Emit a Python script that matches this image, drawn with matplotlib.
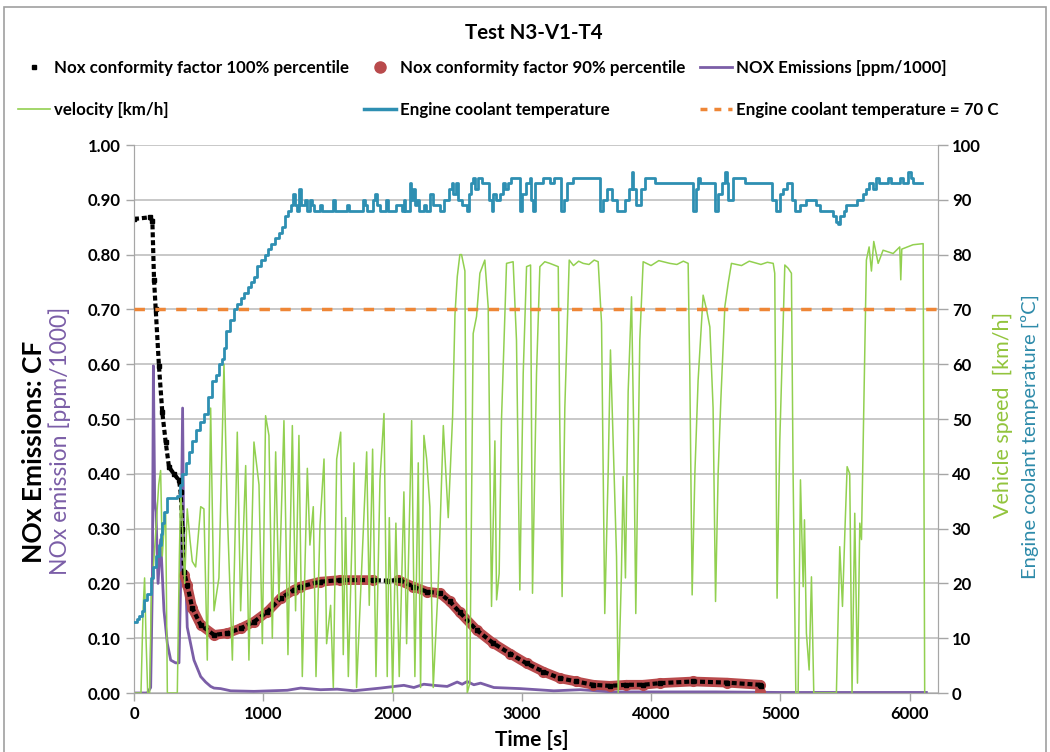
import numpy as np
import matplotlib.pyplot as plt
from matplotlib.lines import Line2D
from matplotlib.patches import Rectangle

plt.rcParams['font.family'] = ['Lato', 'DejaVu Sans']
plt.rcParams['font.weight'] = 'bold'

# vehicle speed [km/h] over time [s]
velocity = [
    (0, 0), (54, 0), (70, 15), (82, 21), (93, 10), (106, 0), (121, 0), (134, 18),
    (150, 23), (170, 30), (191, 38), (206, 40.6), (219, 25), (232, 30), (245, 33),
    (258, 0), (335, 0), (351, 25), (361, 37), (376, 30), (392, 20), (412, 33.6),
    (433, 28), (451, 24), (477, 23), (516, 34), (541, 33.6), (567, 6), (593, 52),
    (619, 15), (657, 21), (696, 60), (722, 33), (761, 6), (799, 47.6), (825, 15),
    (864, 41.5), (889, 6), (928, 45.8), (967, 38), (993, 9), (1018, 50.6), (1044, 47),
    (1070, 10), (1096, 44), (1121, 17), (1160, 49.7), (1191, 7), (1225, 48.8),
    (1250, 15), (1276, 47), (1302, 3), (1341, 41), (1361, 27), (1387, 34), (1408, 3),
    (1439, 30.6), (1470, 42.7), (1490, 9), (1521, 16), (1542, 1), (1568, 42.7),
    (1599, 47.6), (1619, 7), (1637, 32), (1658, 3), (1702, 42), (1722, 1), (1800, 44),
    (1820, 16), (1846, 44.5), (1872, 3), (1903, 39), (1934, 51), (1959, 3), (1975, 32),
    (2001, 0), (2026, 31), (2052, 3), (2088, 36.7), (2109, 9), (2148, 49.7), (2173, 3),
    (2199, 42), (2217, 1), (2243, 47), (2264, 42.7), (2289, 34), (2315, 1), (2354, 20),
    (2393, 48.8), (2431, 32), (2465, 50.6), (2483, 69), (2501, 76), (2521, 80),
    (2534, 80), (2560, 77), (2578, 0), (2598, 1.8), (2624, 65.6), (2650, 68.7),
    (2676, 76.6), (2714, 79), (2740, 70.5), (2766, 15.8), (2792, 46), (2805, 17),
    (2825, 21.8), (2843, 49.8), (2882, 78.4), (2933, 78.7), (2959, 64.4), (2985, 18.8),
    (3011, 58.3), (3037, 77.8), (3068, 78.1), (3083, 18.2), (3114, 58.3), (3140, 77.8),
    (3178, 78.7), (3217, 78.4), (3282, 77.8), (3294, 49), (3312, 17.6), (3333, 52),
    (3367, 79), (3400, 78.0), (3440, 78.8), (3475, 78.4), (3520, 78.2), (3560, 79),
    (3591, 78.7), (3617, 67.5), (3642, 14.5), (3668, 40), (3686, 62.6), (3707, 46),
    (3733, 24.9), (3746, 0), (3771, 21.8), (3784, 39.5), (3802, 21), (3823, 55),
    (3849, 72.3), (3867, 46), (3882, 14.5), (3913, 64.4), (3939, 78.7), (4000, 78),
    (4060, 78.9), (4145, 78.4), (4200, 78.2), (4250, 78.8), (4287, 78.4), (4300, 58.3),
    (4318, 17.9), (4339, 40), (4364, 57), (4403, 72.6), (4429, 70), (4455, 66.8),
    (4480, 52), (4499, 16.7), (4519, 40), (4540, 53.5), (4571, 70.5), (4597, 74.8),
    (4622, 78.4), (4700, 78), (4760, 78.8), (4850, 78.2), (4900, 78.6), (4945, 78.4),
    (4957, 76.6), (4975, 17.3), (4996, 46), (5035, 78.1), (5061, 77.5), (5086, 76.6),
    (5099, 40), (5120, 0), (5138, 0), (5156, 38.9), (5177, 19.4), (5187, 31.6),
    (5202, 10.9), (5223, 4.2), (5241, 21.2), (5259, 0), (5434, 0), (5460, 26.7),
    (5481, 15.8), (5499, 29), (5517, 41.3), (5537, 40), (5555, 0), (5576, 32.8),
    (5597, 1.8), (5615, 31), (5628, 28), (5646, 52), (5666, 79), (5687, 81.4),
    (5705, 77), (5723, 82.4), (5757, 78.4), (5795, 80.8), (5873, 80.2), (5924, 81.4),
    (5932, 75.4), (5940, 81), (6027, 81.8), (6105, 82), (6117, 0),
]

# engine coolant temperature [degC]
coolant = [
    (0, 13), (20, 13.5), (40, 14), (60, 15), (80, 17), (100, 18), (129, 21), (150, 23),
    (170, 25), (190, 27), (206, 29), (220, 31), (235, 33), (258, 35.5), (335, 36),
    (355, 38), (374, 40), (400, 42), (425, 44), (451, 46), (480, 48), (510, 49.5),
    (541, 51), (570, 54), (606, 57), (632, 58), (660, 60), (683, 61), (695, 63),
    (709, 66), (740, 68), (773, 70), (800, 71), (830, 72), (851, 73), (880, 74),
    (902, 75), (930, 76), (951, 78), (980, 79), (1010, 80), (1035, 81), (1060, 82),
    (1090, 83), (1120, 84), (1145, 85), (1170, 87), (1195, 88), (1214, 89), (1230, 91),
    (1245, 89), (1262, 88), (1280, 92), (1295, 89), (1320, 90), (1340, 88), (1360, 90),
    (1375, 89), (1390, 88), (1440, 89), (1455, 88), (1510, 88), (1540, 90), (1555, 88),
    (1620, 88), (1650, 89), (1665, 88), (1730, 88), (1770, 90), (1785, 89), (1800, 88),
    (1850, 90), (1865, 91), (1880, 89), (1900, 88), (1950, 90), (1965, 88), (1990, 88),
    (2030, 89), (2057, 89), (2070, 88), (2085, 90), (2100, 88), (2134, 93), (2145, 90),
    (2160, 92), (2175, 89), (2190, 90), (2205, 88), (2240, 89), (2260, 88), (2290, 91),
    (2315, 89), (2366, 88), (2400, 90), (2440, 92), (2457, 93), (2470, 91), (2490, 93),
    (2505, 90), (2540, 89), (2573, 88), (2590, 91), (2610, 93), (2624, 94), (2640, 92),
    (2660, 94), (2690, 93), (2720, 93), (2750, 90), (2766, 88), (2780, 91), (2800, 90),
    (2830, 91), (2856, 93), (2870, 92), (2895, 93), (2920, 94), (2972, 94), (2985, 88),
    (3000, 91), (3030, 93), (3062, 94), (3075, 90), (3088, 88), (3105, 93), (3165, 94),
    (3220, 93), (3250, 94), (3294, 94), (3307, 88), (3330, 90), (3346, 93), (3372, 93),
    (3398, 94), (3578, 94), (3604, 88), (3630, 90), (3660, 92), (3681, 92), (3700, 90),
    (3733, 88), (3784, 88), (3800, 90), (3830, 92), (3849, 95), (3862, 92), (3887, 89),
    (3920, 92), (3952, 94), (4016, 94), (4030, 93), (4300, 93), (4326, 88), (4345, 92),
    (4364, 94), (4380, 93), (4480, 93), (4493, 88), (4520, 91), (4550, 93), (4571, 95),
    (4584, 93), (4596, 90), (4635, 94), (4712, 94), (4725, 93), (4919, 93), (4935, 90),
    (4970, 88), (4995, 91), (5022, 92), (5050, 93), (5073, 93), (5090, 90), (5112, 88),
    (5151, 89), (5200, 90), (5254, 90), (5280, 89), (5305, 88), (5360, 88), (5408, 87),
    (5430, 86), (5447, 85.5), (5460, 87), (5490, 88), (5511, 89), (5560, 89), (5590, 90),
    (5615, 90), (5640, 91), (5666, 92), (5690, 93), (5718, 92), (5740, 94), (5760, 93),
    (5795, 93), (5830, 94), (5860, 93), (5924, 94), (5950, 93), (5986, 95), (6010, 94),
    (6030, 93), (6094, 93),
]

# Nox conformity factor, 100% percentile
cf_100 = [
    (0, 0.865), (121, 0.868), (142, 0.862), (155, 0.754), (168, 0.70), (193, 0.597),
    (219, 0.512), (245, 0.458), (271, 0.412), (309, 0.40), (348, 0.388), (361, 0.367),
    (374, 0.30), (387, 0.221), (412, 0.197), (451, 0.155), (516, 0.124), (619, 0.106),
    (722, 0.109), (825, 0.118), (928, 0.13), (1031, 0.148), (1134, 0.173),
    (1237, 0.188), (1284, 0.194), (1439, 0.203), (1593, 0.206), (1851, 0.206),
    (1954, 0.205), (2057, 0.206), (2161, 0.194), (2264, 0.185), (2367, 0.182),
    (2444, 0.167), (2521, 0.147), (2650, 0.115), (2779, 0.091), (2908, 0.072),
    (3037, 0.054), (3166, 0.039), (3294, 0.027), (3423, 0.021), (3552, 0.015),
    (3681, 0.013), (3810, 0.015), (3939, 0.015), (4068, 0.018), (4326, 0.021),
    (4584, 0.019), (4841, 0.015), (4850, 0.012),
]

# Nox conformity factor, 90% percentile (no values around 1900-2040 s)
cf_90 = [
    (390, 0.215), (412, 0.197), (451, 0.155), (516, 0.124), (619, 0.106), (722, 0.109),
    (825, 0.118), (928, 0.13), (1031, 0.148), (1134, 0.173), (1237, 0.188),
    (1284, 0.194), (1439, 0.203), (1593, 0.206), (1851, 0.206), (1950, np.nan),
    (2044, 0.206), (2161, 0.194), (2264, 0.185), (2367, 0.182), (2444, 0.167),
    (2521, 0.147), (2650, 0.115), (2779, 0.091), (2908, 0.072), (3037, 0.054),
    (3166, 0.039), (3294, 0.027), (3423, 0.021), (3552, 0.015), (3681, 0.013),
    (3810, 0.015), (3939, 0.015), (4068, 0.018), (4326, 0.021), (4584, 0.019),
    (4841, 0.015), (4846, 0.002),
]

# NOx emissions [ppm/1000]
nox = [
    (0, 0), (103, 0), (129, 0.01), (142, 0.2), (150, 0.597), (160, 0.35), (170, 0.33),
    (186, 0.2), (206, 0.28), (232, 0.15), (258, 0.09), (284, 0.06), (322, 0.055),
    (348, 0.055), (361, 0.2), (376, 0.52), (387, 0.2), (400, 0.21), (412, 0.12),
    (438, 0.09), (464, 0.06), (490, 0.045), (516, 0.03), (554, 0.02), (593, 0.012),
    (619, 0.009), (670, 0.008), (748, 0.004), (928, 0.003), (1186, 0.005),
    (1289, 0.009), (1443, 0.006), (1572, 0.007), (1701, 0.004), (1907, 0.009),
    (2088, 0.014), (2165, 0.01), (2242, 0.016), (2320, 0.014), (2423, 0.012),
    (2500, 0.02), (2539, 0.016), (2578, 0.021), (2629, 0.015), (2681, 0.018),
    (2784, 0.01), (2990, 0.008), (3248, 0.004), (3454, 0.006), (3700, 0.002),
    (4500, 0.002), (5000, 0.001), (6130, 0.001),
]

coolant_limit = 70

vel_t, vel_v = np.array(velocity).T
cool_t, cool_v = np.array(coolant).T
cf100_t, cf100_v = np.array(cf_100).T
cf90_t, cf90_v = np.array(cf_90).T
nox_t, nox_v = np.array(nox).T

c_green = '#92D050'
c_blue = '#2E8FB2'
c_purple = '#7B5EA7'
c_red = '#B94A4C'
c_orange = '#EE8636'
c_axis = '#A6A6A6'

fig = plt.figure(figsize=(10.5, 7.52), dpi=100)
ax = fig.add_axes([134 / 1050, 1 - 693 / 752, 804 / 1050, 548 / 752])
ax2 = ax.twinx()

# left axis: NOx
ax.plot(nox_t, nox_v, color=c_purple, lw=2, zorder=2)
ax.plot(cf90_t, cf90_v, color=c_red, lw=7, solid_capstyle='round', zorder=3)
ax.plot(cf90_t, cf90_v, 'o', color=c_red, ms=7, zorder=3)
ax.plot(cf100_t, cf100_v, color='black', lw=3, ls=(0, (1.2, 0.7)), zorder=4)
ax.plot(cf100_t, cf100_v, 's', color='black', ms=2.5, zorder=4)

# right axis: speed and coolant
ax2.plot(vel_t, vel_v, color=c_green, lw=1.1, zorder=2)
ax2.plot(cool_t, cool_v, color=c_blue, lw=2, drawstyle='steps-post', zorder=3)
ax2.axhline(coolant_limit, color=c_orange, lw=2.5, ls=(0, (3, 3)), zorder=4)

ax.set_xlim(0, 6220)
ax.set_ylim(0, 1)
ax2.set_ylim(0, 100)
ax.set_xticks(np.arange(0, 6001, 1000))
ax.set_yticks(np.arange(0, 1.01, 0.1))
ax.set_yticklabels(['%.2f' % v for v in np.arange(0, 1.01, 0.1)])
ax2.set_yticks(np.arange(0, 101, 10))

ax.yaxis.grid(True, color='#BFBFBF', lw=1.2)
ax.set_axisbelow(True)
for a in (ax, ax2):
    a.spines['top'].set_visible(False)
    for s in ('left', 'right', 'bottom'):
        a.spines[s].set_color(c_axis)
ax.tick_params(axis='both', labelsize=12, color=c_axis, length=6, width=1)
ax2.tick_params(axis='y', labelsize=12, color=c_axis, length=7, width=1, pad=3)

fig.text(534 / 1050, 1 - 33 / 752, 'Test N3-V1-T4', ha='center', va='center', fontsize=14.8)
fig.text(532 / 1050, 1 - 740 / 752, 'Time [s]', ha='center', va='center', fontsize=15)
fig.text(34 / 1050, 1 - 452 / 752, 'NOx Emissions: CF', rotation=90,
         ha='center', va='center', fontsize=19)
fig.text(60 / 1050, 1 - 441 / 752, 'NOx emission [ppm/1000]', rotation=90,
         ha='center', va='center', fontsize=16.5, color=c_purple, fontweight='normal')
fig.text(1003 / 1050, 1 - 415 / 752, 'Vehicle speed  [km/h]', rotation=90,
         ha='center', va='center', fontsize=15.5, color='#92C43C', fontweight='normal')
fig.text(1030 / 1050, 1 - 437 / 752, 'Engine coolant temperature [ºC]', rotation=90,
         ha='center', va='center', fontsize=14.5, color='#2E8BAA', fontweight='normal')

# legend, one entry per slot
entries = [
    (Line2D([], [], ls='none', marker='s', ms=3, color='black'),
     'Nox conformity factor 100% percentile', 18, 68),
    (Line2D([], [], ls='none', marker='o', ms=8, color=c_red),
     'Nox conformity factor 90% percentile', 364, 68),
    (Line2D([], [], color=c_purple, lw=2), 'NOX Emissions [ppm/1000]', 700, 68),
    (Line2D([], [], color=c_green, lw=1.2), 'velocity [km/h]', 18, 110),
    (Line2D([], [], color=c_blue, lw=2.5), 'Engine coolant temperature', 364, 110),
    (Line2D([], [], color=c_orange, lw=2.5, ls=(0, (2, 2))),
     'Engine coolant temperature = 70 C', 700, 110),
]
for handle, label, px, py in entries:
    fig.legend(handles=[handle], labels=[label], loc='center left',
               bbox_to_anchor=(px / 1050, 1 - py / 752), frameon=False,
               fontsize=12.2, handlelength=1.9, handletextpad=0.25, borderpad=0,
               borderaxespad=0)

fig.patches.append(Rectangle((4 / 1050, -0.05), 1042 / 1050, 1.05 - 7 / 752,
                             transform=fig.transFigure, fill=False,
                             ec='#A0A0A0', lw=1.2))

fig.savefig('out.png', dpi=100)
